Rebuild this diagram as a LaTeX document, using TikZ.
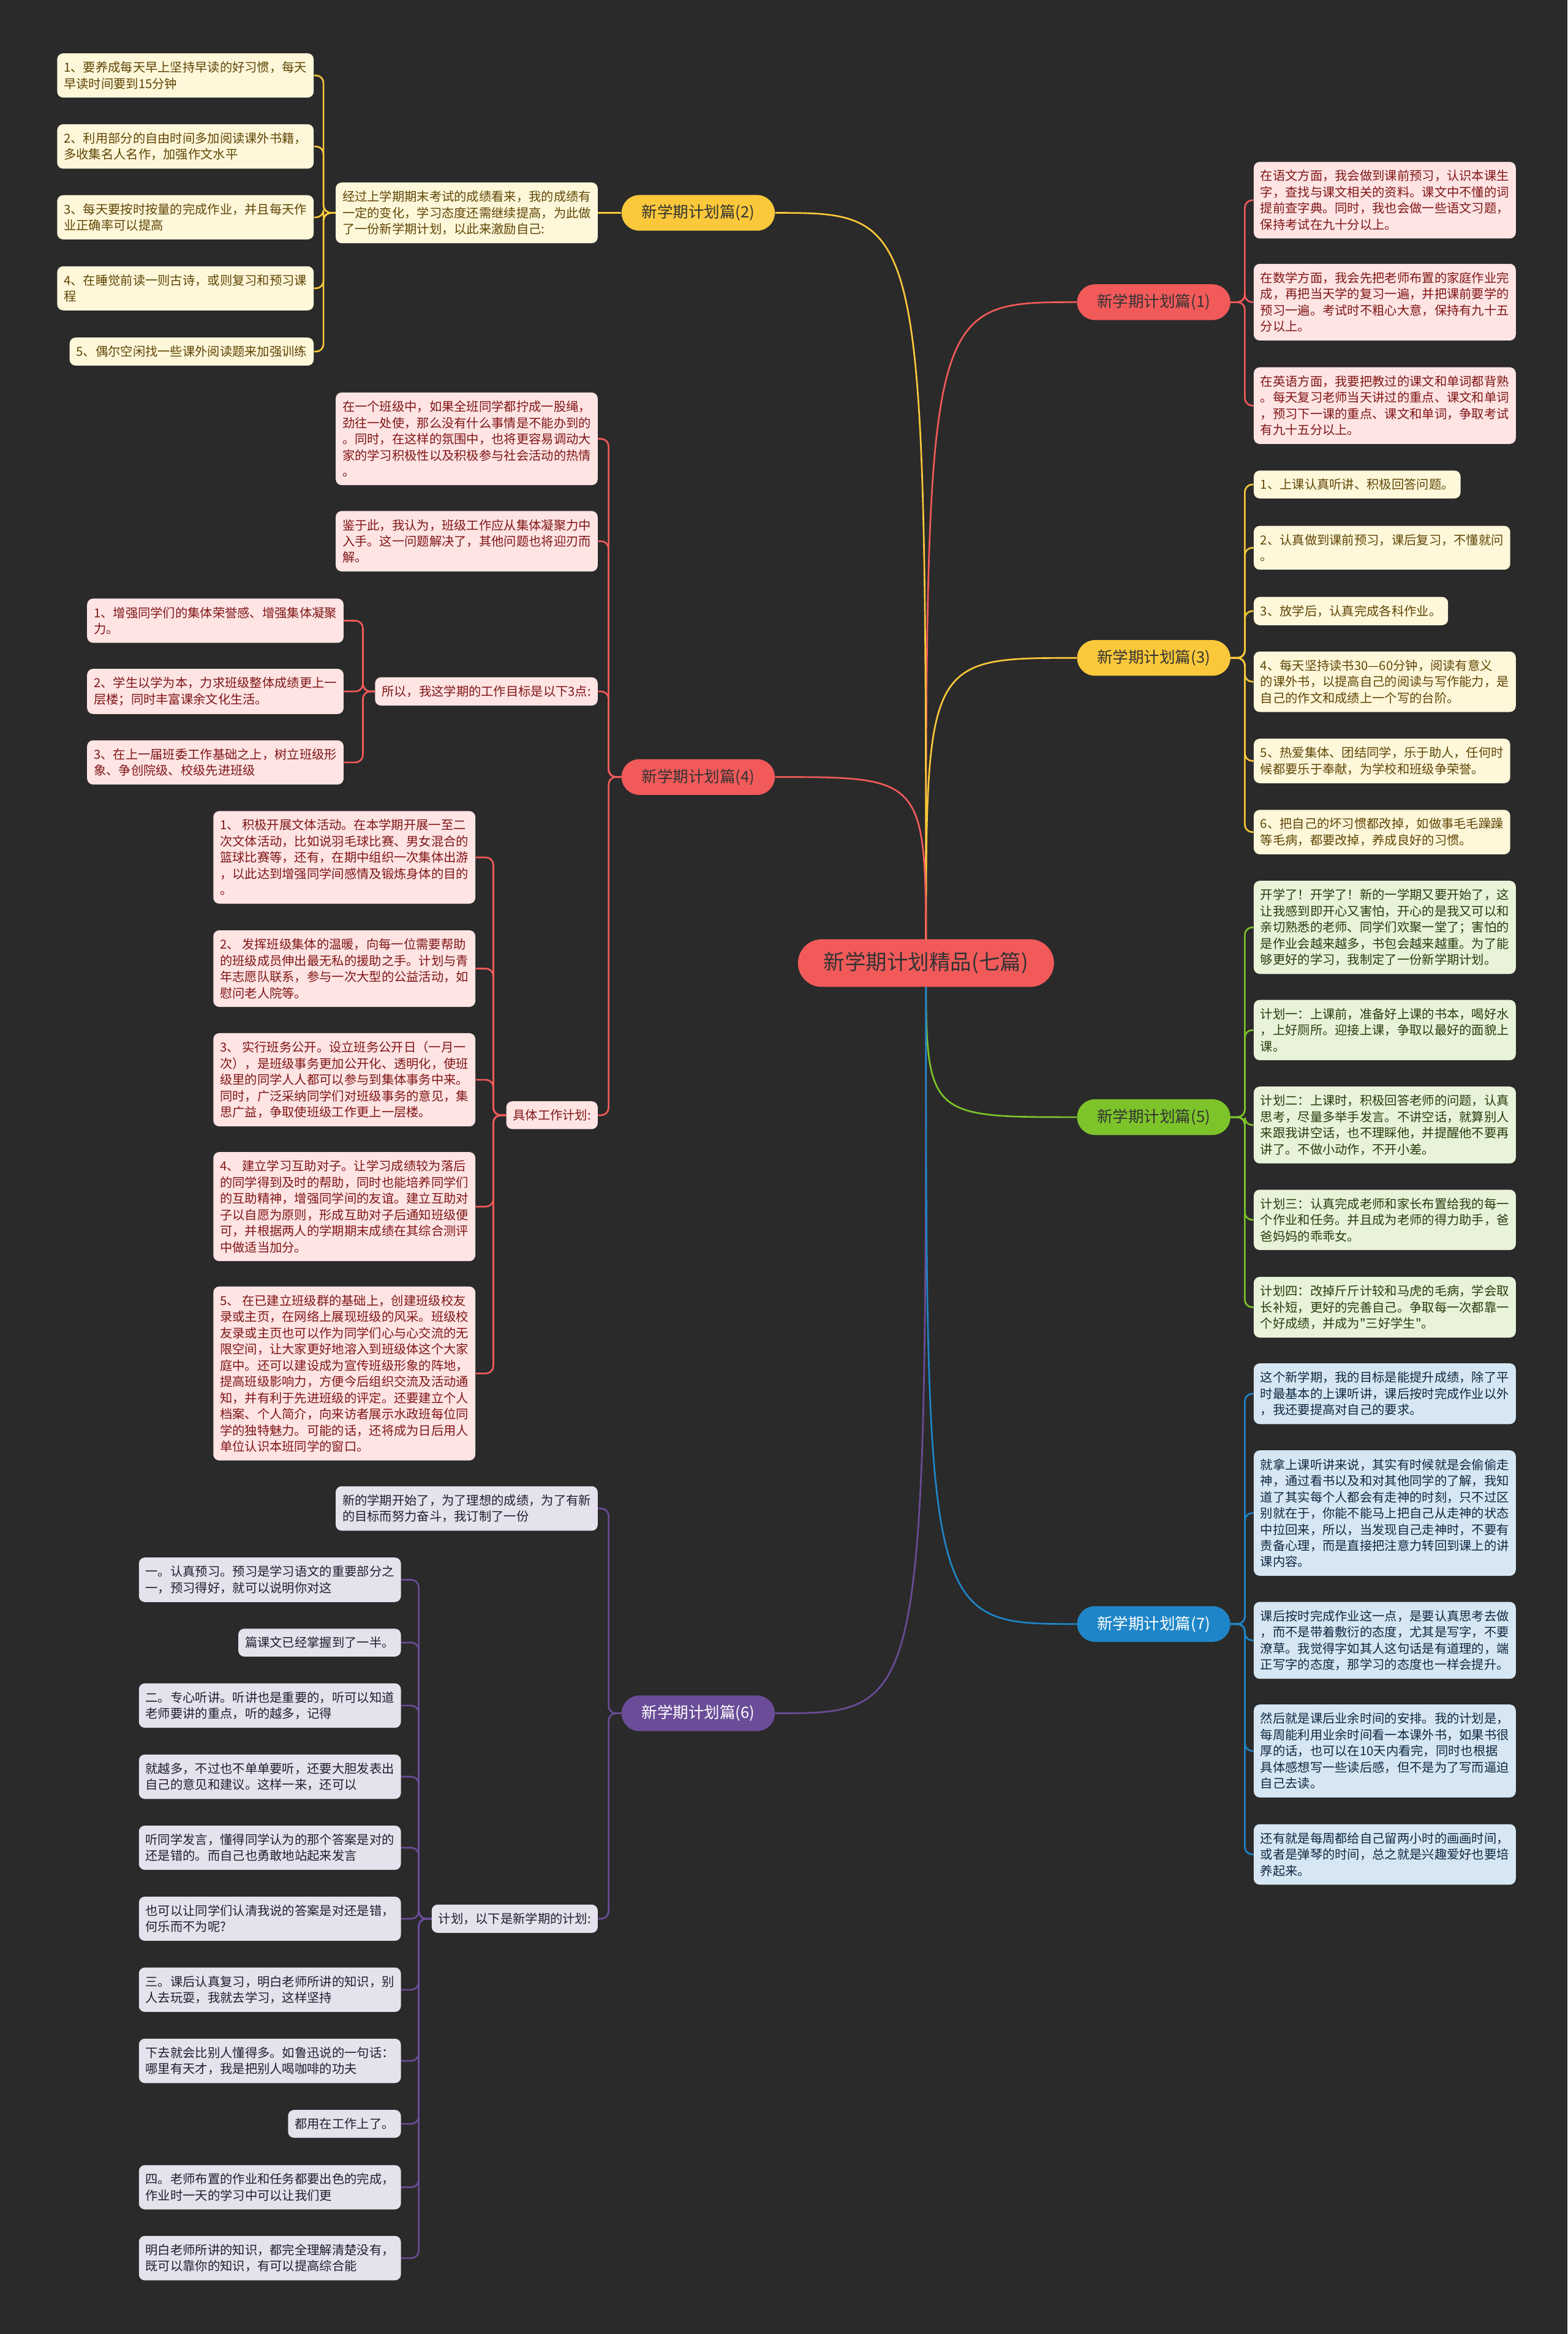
\documentclass[tikz,border=0pt]{standalone}
\usepackage{fontspec}
\setmainfont{Noto Sans CJK SC}[Ligatures=TeXOff]
\usepackage{tikz}
\pgfdeclarelayer{back}
\pgfsetlayers{back,main}
\definecolor{bgdark}{RGB}{42,42,42}
\definecolor{darktxt}{RGB}{51,51,51}
\definecolor{cred}{RGB}{242,90,90}
\definecolor{credbox}{RGB}{255,228,228}
\definecolor{credtxt}{RGB}{128,22,22}
\definecolor{cyel}{RGB}{250,200,58}
\definecolor{cyelbox}{RGB}{255,247,218}
\definecolor{cyeltxt}{RGB}{95,70,5}
\definecolor{cgrn}{RGB}{125,196,42}
\definecolor{cgrnbox}{RGB}{232,243,217}
\definecolor{cgrntxt}{RGB}{40,60,15}
\definecolor{cpur}{RGB}{106,76,152}
\definecolor{cpurbox}{RGB}{229,225,237}
\definecolor{cpurtxt}{RGB}{35,30,45}
\definecolor{cblu}{RGB}{30,134,200}
\definecolor{cblubox}{RGB}{214,231,243}
\definecolor{cblutxt}{RGB}{15,40,65}

\begin{document}
\begin{tikzpicture}[x=1pt,y=-1pt,
  pill/.style={fill=#1,text=darktxt,rounded corners=12pt,minimum width=103pt,
               minimum height=24pt,inner sep=0pt,font=\fontsize{10.5}{12}\selectfont},
  leaf/.style={rounded corners=4pt,align=left,inner xsep=4.5pt,inner ysep=5.5pt,
               font=\fontsize{8.35}{10.9}\selectfont},
  redbox/.style={leaf,fill=credbox,text=credtxt},
  yelbox/.style={leaf,fill=cyelbox,text=cyeltxt},
  grnbox/.style={leaf,fill=cgrnbox,text=cgrntxt},
  purbox/.style={leaf,fill=cpurbox,text=cpurtxt},
  blubox/.style={leaf,fill=cblubox,text=cblutxt},
  stem/.style={draw=#1,line width=1.1pt},
  link/.style={draw=#1,line width=1.1pt,rounded corners=5pt}
]

  % Fond
  \begin{pgfonlayer}{back}
    \fill[bgdark] (0,0) rectangle (1053,1568);
  \end{pgfonlayer}

  % Centre
  \node[pill=cred,rounded corners=16pt,minimum width=172pt,minimum height=32pt,
        font=\fontsize{14.2}{16}\selectfont] (root) at (622,647) {新学期计划精品(七篇)};

  % Branches
  \node[pill=cred] (b1) at (775,203) {新学期计划篇(1)};
  \node[pill=cyel] (b2) at (469,143) {新学期计划篇(2)};
  \node[pill=cyel] (b3) at (775,442) {新学期计划篇(3)};
  \node[pill=cred] (b4) at (469,522) {新学期计划篇(4)};
  \node[pill=cgrn] (b5) at (775,750.5) {新学期计划篇(5)};
  \node[pill=cpur,text=white] (b6) at (469,1151) {新学期计划篇(6)};
  \node[pill=cblu,text=white] (b7) at (775,1091) {新学期计划篇(7)};

  % Droite (1)
  \node[redbox,anchor=west] (r1a) at (842,134.5) {在语文方面，我会做到课前预习，认识本课生\\字，查找与课文相关的资料。课文中不懂的词\\提前查字典。同时，我也会做一些语文习题，\\保持考试在九十分以上。};
  \node[redbox,anchor=west] (r1b) at (842,203) {在数学方面，我会先把老师布置的家庭作业完\\成，再把当天学的复习一遍，并把课前要学的\\预习一遍。考试时不粗心大意，保持有九十五\\分以上。};
  \node[redbox,anchor=west] (r1c) at (842,272.5) {在英语方面，我要把教过的课文和单词都背熟\\。每天复习老师当天讲过的重点、课文和单词\\，预习下一课的重点、课文和单词，争取考试\\有九十五分以上。};

  % Droite (3)
  \node[yelbox,anchor=west] (r3a) at (842,325.5) {1、上课认真听讲、积极回答问题。};
  \node[yelbox,anchor=west] (r3b) at (842,368) {2、认真做到课前预习，课后复习，不懂就问\\。};
  \node[yelbox,anchor=west] (r3c) at (842,410.5) {3、放学后，认真完成各科作业。};
  \node[yelbox,anchor=west] (r3d) at (842,458) {4、每天坚持读书30—60分钟，阅读有意义\\的课外书，以提高自己的阅读与写作能力，是\\自己的作文和成绩上一个写的台阶。};
  \node[yelbox,anchor=west] (r3e) at (842,511.2) {5、热爱集体、团结同学，乐于助人，任何时\\候都要乐于奉献，为学校和班级争荣誉。};
  \node[yelbox,anchor=west] (r3f) at (842,559) {6、把自己的坏习惯都改掉，如做事毛毛躁躁\\等毛病，都要改掉，养成良好的习惯。};

  % Droite (5)
  \node[grnbox,anchor=west] (r5a) at (842,623) {开学了！开学了！新的一学期又要开始了，这\\让我感到即开心又害怕，开心的是我又可以和\\亲切熟悉的老师、同学们欢聚一堂了；害怕的\\是作业会越来越多，书包会越来越重。为了能\\够更好的学习，我制定了一份新学期计划。};
  \node[grnbox,anchor=west] (r5b) at (842,692) {计划一：上课前，准备好上课的书本，喝好水\\，上好厕所。迎接上课，争取以最好的面貌上\\课。};
  \node[grnbox,anchor=west] (r5c) at (842,755.8) {计划二：上课时，积极回答老师的问题，认真\\思考，尽量多举手发言。不讲空话，就算别人\\来跟我讲空话，也不理睬他，并提醒他不要再\\讲了。不做小动作，不开小差。};
  \node[grnbox,anchor=west] (r5d) at (842,819.5) {计划三：认真完成老师和家长布置给我的每一\\个作业和任务。并且成为老师的得力助手，爸\\爸妈妈的乖乖女。};
  \node[grnbox,anchor=west] (r5e) at (842,878.2) {计划四：改掉斤斤计较和马虎的毛病，学会取\\长补短，更好的完善自己。争取每一次都靠一\\个好成绩，并成为"三好学生"。};

  % Droite (7)
  \node[blubox,anchor=west] (r7a) at (842,936.3) {这个新学期，我的目标是能提升成绩，除了平\\时最基本的上课听讲，课后按时完成作业以外\\，我还要提高对自己的要求。};
  \node[blubox,anchor=west] (r7b) at (842,1016.5) {就拿上课听讲来说，其实有时候就是会偷偷走\\神，通过看书以及和对其他同学的了解，我知\\道了其实每个人都会有走神的时刻，只不过区\\别就在于，你能不能马上把自己从走神的状态\\中拉回来，所以，当发现自己走神时，不要有\\责备心理，而是直接把注意力转回到课上的讲\\课内容。};
  \node[blubox,anchor=west] (r7c) at (842,1102) {课后按时完成作业这一点，是要认真思考去做\\，而不是带着敷衍的态度，尤其是写字，不要\\潦草。我觉得字如其人这句话是有道理的，端\\正写字的态度，那学习的态度也一样会提升。};
  \node[blubox,anchor=west] (r7d) at (842,1176.3) {然后就是课后业余时间的安排。我的计划是，\\每周能利用业余时间看一本课外书，如果书很\\厚的话，也可以在10天内看完，同时也根据\\具体感想写一些读后感，但不是为了写而逼迫\\自己去读。};
  \node[blubox,anchor=west] (r7e) at (842,1245.8) {还有就是每周都给自己留两小时的画画时间，\\或者是弹琴的时间，总之就是兴趣爱好也要培\\养起来。};

  % Gauche (2)
  \node[yelbox,anchor=east] (l2) at (401.7,143) {经过上学期期末考试的成绩看来，我的成绩有\\一定的变化，学习态度还需继续提高，为此做\\了一份新学期计划，以此来激励自己:};
  \node[yelbox,anchor=east] (l2a) at (210.9,50.7) {1、要养成每天早上坚持早读的好习惯，每天\\早读时间要到15分钟};
  \node[yelbox,anchor=east] (l2b) at (210.9,98.4) {2、利用部分的自由时间多加阅读课外书籍，\\多收集名人名作，加强作文水平};
  \node[yelbox,anchor=east] (l2c) at (210.9,146) {3、每天要按时按量的完成作业，并且每天作\\业正确率可以提高};
  \node[yelbox,anchor=east] (l2d) at (210.9,193.7) {4、在睡觉前读一则古诗，或则复习和预习课\\程};
  \node[yelbox,anchor=east] (l2e) at (210.9,236.2) {5、偶尔空闲找一些课外阅读题来加强训练};

  % Gauche (4)
  \node[redbox,anchor=east] (l4a) at (401.7,294.8) {在一个班级中，如果全班同学都拧成一股绳，\\劲往一处使，那么没有什么事情是不能办到的\\。同时，在这样的氛围中，也将更容易调动大\\家的学习积极性以及积极参与社会活动的热情\\。};
  \node[redbox,anchor=east] (l4b) at (401.7,363.6) {鉴于此，我认为，班级工作应从集体凝聚力中\\入手。这一问题解决了，其他问题也将迎刃而\\解。};
  \node[redbox,anchor=east] (l4c) at (401.7,464.5) {所以，我这学期的工作目标是以下3点:};
  \node[redbox,anchor=east] (g1) at (231,417) {1、增强同学们的集体荣誉感、增强集体凝聚\\力。};
  \node[redbox,anchor=east] (g2) at (231,464.5) {2、学生以学为本，力求班级整体成绩更上一\\层楼；同时丰富课余文化生活。};
  \node[redbox,anchor=east] (g3) at (231,512.2) {3、在上一届班委工作基础之上，树立班级形\\象、争创院级、校级先进班级};
  \node[redbox,anchor=east] (l4d) at (401.7,749.2) {具体工作计划:};
  \node[redbox,anchor=east] (w1) at (319.5,576) {1、 积极开展文体活动。在本学期开展一至二\\次文体活动，比如说羽毛球比赛、男女混合的\\篮球比赛等，还有，在期中组织一次集体出游\\，以此达到增强同学间感情及锻炼身体的目的\\。};
  \node[redbox,anchor=east] (w2) at (319.5,650.7) {2、 发挥班级集体的温暖，向每一位需要帮助\\的班级成员伸出最无私的援助之手。计划与青\\年志愿队联系，参与一次大型的公益活动，如\\慰问老人院等。};
  \node[redbox,anchor=east] (w3) at (319.5,725.4) {3、 实行班务公开。设立班务公开日（一月一\\次），是班级事务更加公开化、透明化，使班\\级里的同学人人都可以参与到集体事务中来。\\同时，广泛采纳同学们对班级事务的意见，集\\思广益，争取使班级工作更上一层楼。};
  \node[redbox,anchor=east] (w4) at (319.5,810.6) {4、 建立学习互助对子。让学习成绩较为落后\\的同学得到及时的帮助，同时也能培养同学们\\的互助精神，增强同学间的友谊。建立互助对\\子以自愿为原则，形成互助对子后通知班级便\\可，并根据两人的学期期末成绩在其综合测评\\中做适当加分。};
  \node[redbox,anchor=east] (w5) at (319.5,922.7) {5、 在已建立班级群的基础上，创建班级校友\\录或主页，在网络上展现班级的风采。班级校\\友录或主页也可以作为同学们心与心交流的无\\限空间，让大家更好地溶入到班级体这个大家\\庭中。还可以建设成为宣传班级形象的阵地，\\提高班级影响力，方便今后组织交流及活动通\\知，并有利于先进班级的评定。还要建立个人\\档案、个人简介，向来访者展示水政班每位同\\学的独特魅力。可能的话，还将成为日后用人\\单位认识本班同学的窗口。};

  % Gauche (6)
  \node[purbox,anchor=east] (l6a) at (401.7,1013.4) {新的学期开始了，为了理想的成绩，为了有新\\的目标而努力奋斗，我订制了一份};
  \node[purbox,anchor=east] (l6c) at (401.7,1289) {计划，以下是新学期的计划:};
  \node[purbox,anchor=east] (p1) at (269.5,1061.3) {一。认真预习。预习是学习语文的重要部分之\\一，预习得好，就可以说明你对这};
  \node[purbox,anchor=east] (p2) at (269.5,1103.5) {篇课文已经掌握到了一半。};
  \node[purbox,anchor=east] (p3) at (269.5,1145.8) {二。专心听讲。听讲也是重要的，听可以知道\\老师要讲的重点，听的越多，记得};
  \node[purbox,anchor=east] (p4) at (269.5,1193.6) {就越多，不过也不单单要听，还要大胆发表出\\自己的意见和建议。这样一来，还可以};
  \node[purbox,anchor=east] (p5) at (269.5,1241.3) {听同学发言，懂得同学认为的那个答案是对的\\还是错的。而自己也勇敢地站起来发言};
  \node[purbox,anchor=east] (p6) at (269.5,1289) {也可以让同学们认清我说的答案是对还是错，\\何乐而不为呢?};
  \node[purbox,anchor=east] (p7) at (269.5,1336.7) {三。课后认真复习，明白老师所讲的知识，别\\人去玩耍，我就去学习，这样坚持};
  \node[purbox,anchor=east] (p8) at (269.5,1384.5) {下去就会比别人懂得多。如鲁迅说的一句话：\\哪里有天才，我是把别人喝咖啡的功夫};
  \node[purbox,anchor=east] (p9) at (269.5,1426.8) {都用在工作上了。};
  \node[purbox,anchor=east] (p10) at (269.5,1469.4) {四。老师布置的作业和任务都要出色的完成，\\作业时一天的学习中可以让我们更};
  \node[purbox,anchor=east] (p11) at (269.5,1517) {明白老师所讲的知识，都完全理解清楚没有，\\既可以靠你的知识，有可以提高综合能};

  % Liens
  \begin{pgfonlayer}{back}
    \draw[stem=cred] (root.center) .. controls (root.center |- b1.west) .. (b1.west);
    \draw[stem=cyel] (root.center) .. controls (root.center |- b2.east) .. (b2.east);
    \draw[stem=cyel] (root.center) .. controls (root.center |- b3.west) .. (b3.west);
    \draw[stem=cred] (root.center) .. controls (root.center |- b4.east) .. (b4.east);
    \draw[stem=cgrn] (root.center) .. controls (root.center |- b5.west) .. (b5.west);
    \draw[stem=cpur] (root.center) .. controls (root.center |- b6.east) .. (b6.east);
    \draw[stem=cblu] (root.center) .. controls (root.center |- b7.west) .. (b7.west);

    \foreach \c in {r1a,r1b,r1c}
      \draw[link=cred] (b1.east) -- ++(9.5,0) |- (\c.west);
    \foreach \c in {r3a,r3b,r3c,r3d,r3e,r3f}
      \draw[link=cyel] (b3.east) -- ++(9.5,0) |- (\c.west);
    \foreach \c in {r5a,r5b,r5c,r5d,r5e}
      \draw[link=cgrn] (b5.east) -- ++(9.5,0) |- (\c.west);
    \foreach \c in {r7a,r7b,r7c,r7d,r7e}
      \draw[link=cblu] (b7.east) -- ++(9.5,0) |- (\c.west);

    \draw[link=cyel] (b2.west) -- (l2.east);
    \foreach \c in {l2a,l2b,l2c,l2d,l2e}
      \draw[link=cyel] (l2.west) -- ++(-8,0) |- (\c.east);

    \foreach \c in {l4a,l4b,l4c,l4d}
      \draw[link=cred] (b4.west) -- ++(-8.5,0) |- (\c.east);
    \foreach \c in {g1,g2,g3}
      \draw[link=cred] (l4c.west) -- ++(-8,0) |- (\c.east);
    \foreach \c in {w1,w2,w3,w4,w5}
      \draw[link=cred] (l4d.west) -- ++(-8.5,0) |- (\c.east);

    \foreach \c in {l6a,l6c}
      \draw[link=cpur] (b6.west) -- ++(-8.5,0) |- (\c.east);
    \foreach \c in {p1,p2,p3,p4,p5,p6,p7,p8,p9,p10,p11}
      \draw[link=cpur] (l6c.west) -- ++(-8.5,0) |- (\c.east);
  \end{pgfonlayer}

\end{tikzpicture}
\end{document}
